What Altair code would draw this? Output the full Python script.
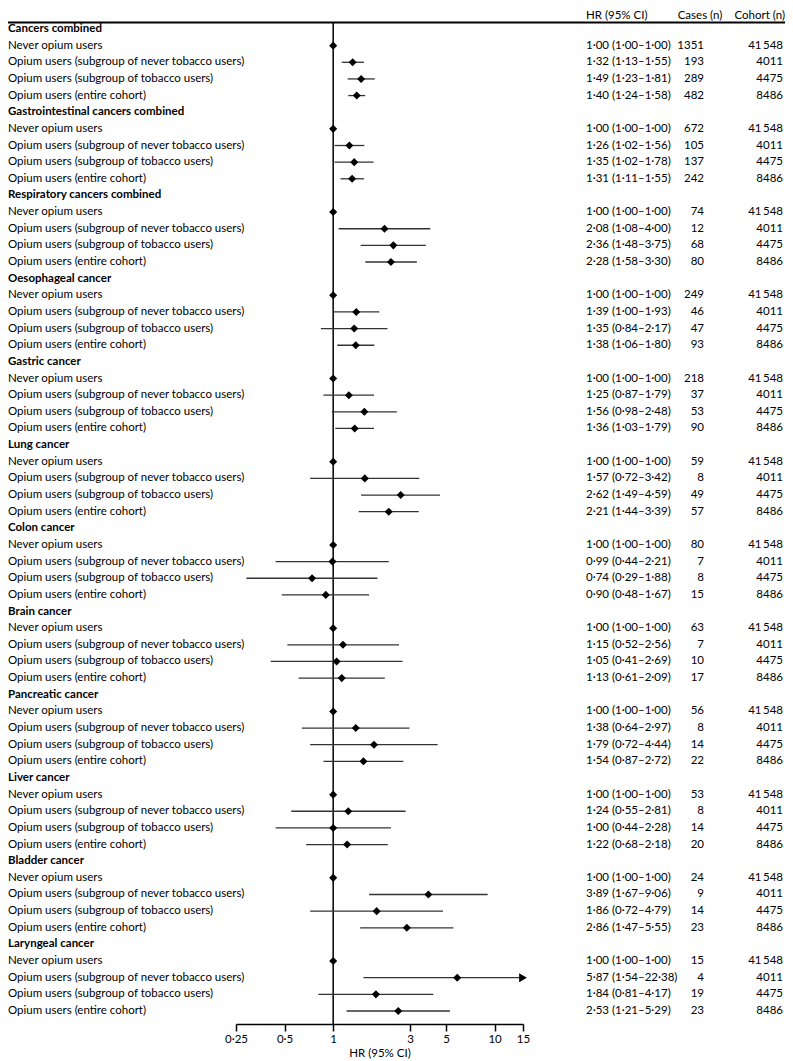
import altair as alt
import pandas as pd

groups = [
    "Cancers combined", "Gastrointestinal cancers combined", "Respiratory cancers combined",
    "Oesophageal cancer", "Gastric cancer", "Lung cancer", "Colon cancer", "Brain cancer",
    "Pancreatic cancer", "Liver cancer", "Bladder cancer", "Laryngeal cancer",
]
subgroups = [
    "Never opium users",
    "Opium users (subgroup of never tobacco users)",
    "Opium users (subgroup of tobacco users)",
    "Opium users (entire cohort)",
]
hr = [
    [1.00, 1.32, 1.49, 1.40], [1.00, 1.26, 1.35, 1.31], [1.00, 2.08, 2.36, 2.28],
    [1.00, 1.39, 1.35, 1.38], [1.00, 1.25, 1.56, 1.36], [1.00, 1.57, 2.62, 2.21],
    [1.00, 0.99, 0.74, 0.90], [1.00, 1.15, 1.05, 1.13], [1.00, 1.38, 1.79, 1.54],
    [1.00, 1.24, 1.00, 1.22], [1.00, 3.89, 1.86, 2.86], [1.00, 5.87, 1.84, 2.53],
]
lo = [
    [1.00, 1.13, 1.23, 1.24], [1.00, 1.02, 1.02, 1.11], [1.00, 1.08, 1.48, 1.58],
    [1.00, 1.00, 0.84, 1.06], [1.00, 0.87, 0.98, 1.03], [1.00, 0.72, 1.49, 1.44],
    [1.00, 0.44, 0.29, 0.48], [1.00, 0.52, 0.41, 0.61], [1.00, 0.64, 0.72, 0.87],
    [1.00, 0.55, 0.44, 0.68], [1.00, 1.67, 0.72, 1.47], [1.00, 1.54, 0.81, 1.21],
]
hi = [
    [1.00, 1.55, 1.81, 1.58], [1.00, 1.56, 1.78, 1.55], [1.00, 4.00, 3.75, 3.30],
    [1.00, 1.93, 2.17, 1.80], [1.00, 1.79, 2.48, 1.79], [1.00, 3.42, 4.59, 3.39],
    [1.00, 2.21, 1.88, 1.67], [1.00, 2.56, 2.69, 2.09], [1.00, 2.97, 4.44, 2.72],
    [1.00, 2.81, 2.28, 2.18], [1.00, 9.06, 4.79, 5.55], [1.00, 22.38, 4.17, 5.29],
]
cases = [
    [1351, 193, 289, 482], [672, 105, 137, 242], [74, 12, 68, 80], [249, 46, 47, 93],
    [218, 37, 53, 90], [59, 8, 49, 57], [80, 7, 8, 15], [63, 7, 10, 17],
    [56, 8, 14, 22], [53, 8, 14, 20], [24, 9, 14, 23], [15, 4, 19, 23],
]
cohort = [41548, 4011, 4475, 8486]
x_ticks = [0.25, 0.5, 1, 3, 5, 10, 15]
X_MAX = 15

FONT = "Lato"
FS = 11.5


def fmt(v):
    return f"{v:.2f}".replace(".", "\u00b7")


def fmt_n(n):
    s = str(n)
    if n >= 10000:
        s = s[:-3] + "\u2009" + s[-3:]
    return s


rows = []
i = 0
for g, name in enumerate(groups):
    rows.append(dict(row=i, label=name, header=True))
    i += 1
    for k, sub in enumerate(subgroups):
        rows.append(dict(
            row=i, label=sub, header=False, ref=(k == 0),
            hr=hr[g][k], lo=lo[g][k], hi=min(hi[g][k], X_MAX), over=hi[g][k] > X_MAX,
            hrtext=f"{fmt(hr[g][k])} ({fmt(lo[g][k])}\u2013{fmt(hi[g][k])})",
            cases=str(cases[g][k]), cohort=fmt_n(cohort[k]),
        ))
        i += 1
df = pd.DataFrame(rows)
N = len(df)

W = 777
H = 1016
TOP = 14.5
yscale = alt.Scale(domain=[0, N - 1], range=[21, 1003])
xscale = alt.Scale(type="log", domain=[0.25, 15], range=[228, 515], nice=False)
xaxis = alt.Axis(
    values=x_ticks, labelExpr="replace(datum.value + '', '.', '\u00b7')",
    title="HR (95% CI)", grid=False, domainColor="black", domainWidth=1.5,
    tickColor="black", tickWidth=1.5, tickSize=7, labelFont=FONT, labelFontSize=FS,
    labelColor="black", labelPadding=2, titleFont=FONT, titleFontSize=FS,
    titleFontWeight="normal", titleColor="black", titlePadding=3,
    labelFlush=False, labelOverlap=False,
)
Y = alt.Y("row:Q", scale=yscale, axis=None)

base = alt.Chart(df)
data_rows = base.transform_filter("!datum.header")

ci = data_rows.transform_filter("!datum.ref").mark_rule(color="#333333", strokeWidth=1.3).encode(
    x=alt.X("lo:Q", scale=xscale, axis=xaxis), x2="hi:Q", y=Y)
arrow = data_rows.transform_filter("datum.over").mark_point(
    shape="triangle-right", filled=True, color="black", size=80, opacity=1).encode(
    x=alt.X("hi:Q", scale=xscale, axis=xaxis), y=Y)
vline = alt.Chart(pd.DataFrame({"v": [1]})).mark_rule(color="black", strokeWidth=1.5).encode(
    x=alt.X("v:Q", scale=xscale, axis=xaxis), y=alt.value(TOP), y2=alt.value(H))
diam = data_rows.mark_point(shape="diamond", filled=True, color="black", size=65, opacity=1).encode(
    x=alt.X("hr:Q", scale=xscale, axis=xaxis), y=Y)

labels = base.transform_filter("!datum.header").mark_text(
    align="left", baseline="middle", font=FONT, fontSize=FS, color="black").encode(
    x=alt.value(0), y=Y, text="label:N")
heads = base.transform_filter("datum.header").mark_text(
    align="left", baseline="middle", font=FONT, fontSize=FS, fontWeight="bold", color="black").encode(
    x=alt.value(0), y=Y, text="label:N")
hrtxt = data_rows.mark_text(align="left", baseline="middle", font=FONT, fontSize=FS, color="black").encode(
    x=alt.value(578), y=Y, text="hrtext:N")
casetxt = data_rows.mark_text(align="right", baseline="middle", font=FONT, fontSize=FS, color="black").encode(
    x=alt.value(696), y=Y, text="cases:N")
cohtxt = data_rows.mark_text(align="right", baseline="middle", font=FONT, fontSize=FS, color="black").encode(
    x=alt.value(775), y=Y, text="cohort:N")

col_titles = ["HR (95% CI)", "Cases (n)", "Cohort (n)"]
col_x = [578, 692, 777]
col_align = ["left", "center", "right"]
hdr_layers = []
for t, x, a in zip(col_titles, col_x, col_align):
    hdr_layers.append(
        alt.Chart(pd.DataFrame({"t": [t]})).mark_text(
            align=a, baseline="alphabetic", font=FONT, fontSize=FS, color="black").encode(
            x=alt.value(x), y=alt.value(11), text="t:N"))

topline = alt.Chart(pd.DataFrame({"a": [0]})).mark_rule(color="black", strokeWidth=2).encode(
    x=alt.value(0), x2=alt.value(W), y=alt.value(TOP))

chart = alt.layer(
    topline, vline, ci, arrow, diam, labels, heads, hrtxt, casetxt, cohtxt, *hdr_layers
).properties(
    width=W, height=H,
    autosize=alt.AutoSizeParams(type="none"),
    padding={"left": 0, "top": 0, "right": 0, "bottom": 37},
).configure_view(stroke=None)

chart.save("out.html", embed_options={"renderer": "svg", "actions": False})
